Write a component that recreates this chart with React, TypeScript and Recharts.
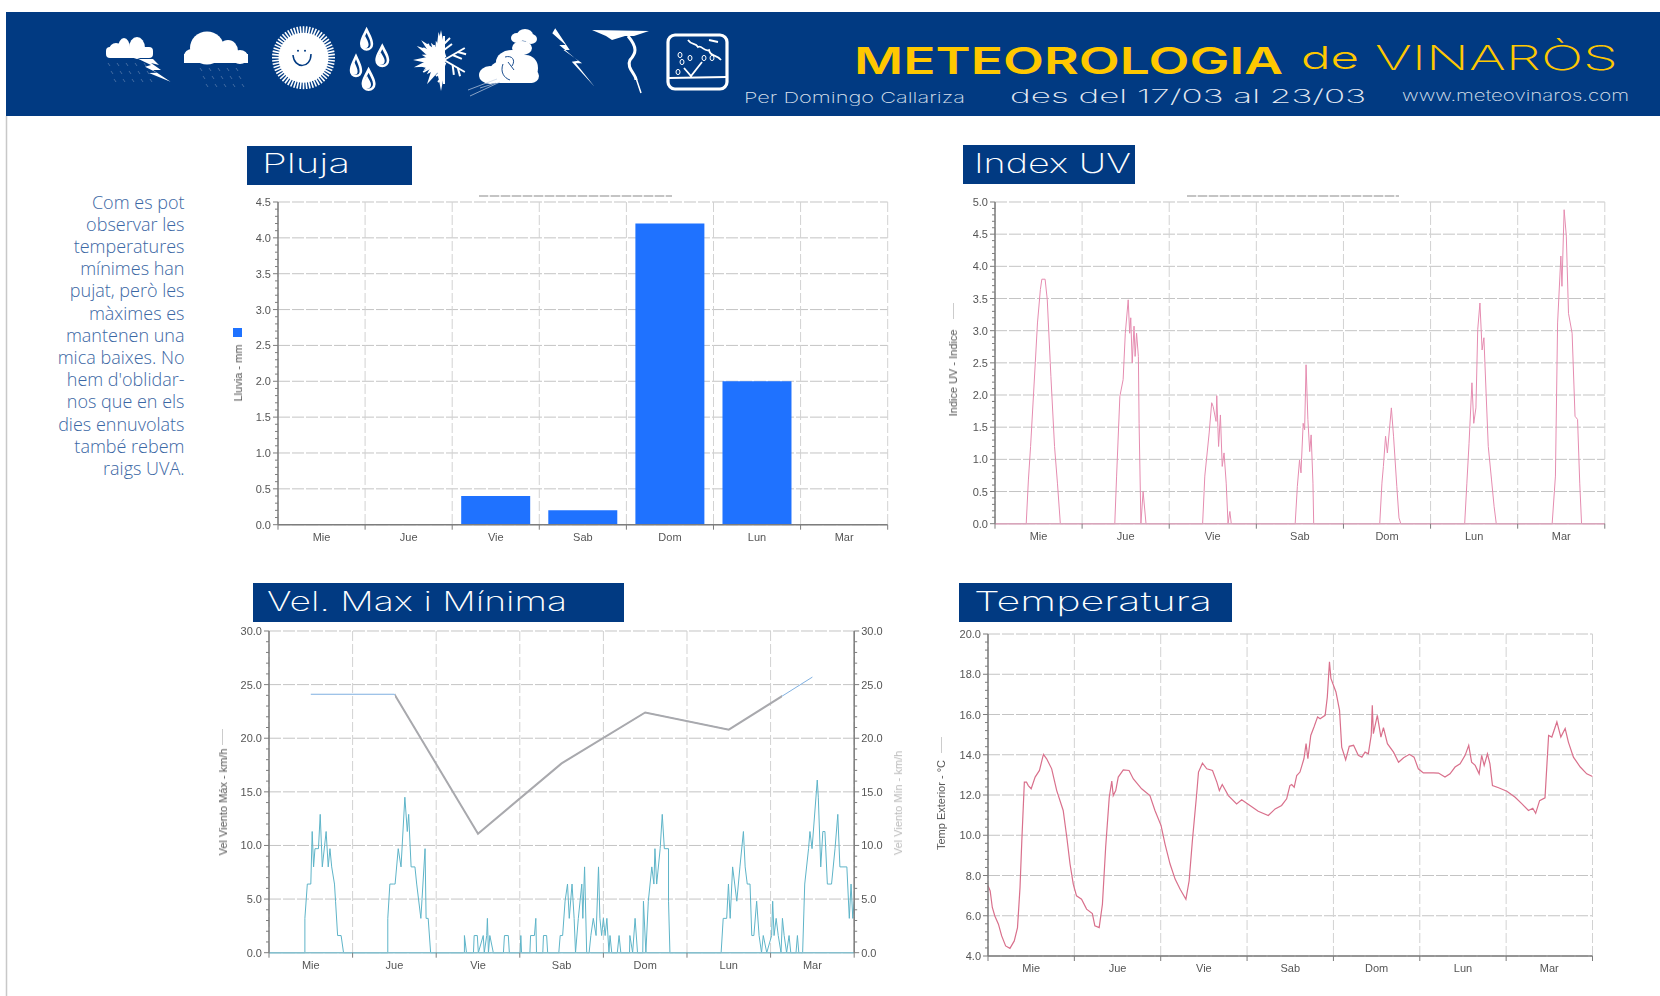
import React from 'react';
import { ComposedChart, Bar, Line, XAxis, YAxis, CartesianGrid } from 'recharts';

const days = ['Mie', 'Jue', 'Vie', 'Sab', 'Dom', 'Lun', 'Mar'];
const dayBounds = [0, 24, 48, 72, 96, 120, 144, 168];
const dayCenters = [12, 36, 60, 84, 108, 132, 156];

const rainValues = [0, 0, 0.4, 0.2, 4.2, 2.0, 0];
const maxWindValues = [24.1, 24.1, 11.1, 17.65, 22.4, 20.8, 25.7];

const uvHours = [
  0, 8.6, 9.2, 9.8, 11.1, 11.7, 12.5, 12.9, 13.8, 14.4, 15.4, 16.4, 17.2, 18,
  33, 33.5, 34.4, 35.3, 35.9, 36.7, 37.1, 37.4, 37.8, 38.3, 38.6, 39, 39.5, 39.7, 40.2, 40.8, 41.6,
  57.2, 57.8, 59, 59.7, 60.1, 60.9, 61.1, 61.6, 62.1, 62.6, 63.1, 63.7, 64.2, 64.7, 65.1,
  82.7, 83.3, 83.9, 84.3, 84.9, 85.3, 85.7, 86.2, 86.7, 87.1, 87.6, 87.8,
  106, 106.6, 107, 107.6, 108.1, 109.2, 109.8, 110.7, 111.3, 111.8,
  129.4, 130, 130.6, 131.4, 131.9, 132.5, 133, 133.6, 134.2, 134.7, 135.3, 135.9, 136.8, 137.5, 138.1,
  153.5, 154.4, 155, 155.9, 156.2, 156.8, 157.4, 158, 159, 159.8, 160.5, 161.1, 161.6, 168,
];
const uvValues = [
  0, 0, 0.68, 1.2, 2.5, 3.12, 3.64, 3.8, 3.8, 3.48, 2.29, 1.2, 0.63, 0,
  0, 0.74, 1.98, 2.24, 2.96, 3.48, 2.96, 3.2, 2.5, 3.07, 2.6, 2.96, 2.6, 1.56, 0, 0.5, 0,
  0, 0.74, 1.41, 1.88, 1.82, 1.59, 1.99, 1.2, 1.69, 0.89, 1.1, 0.63, 0, 0.19, 0,
  0, 0.58, 0.99, 0.79, 1.56, 1.46, 2.47, 1.62, 1.12, 1.38, 0.63, 0,
  0, 0.63, 0.89, 1.36, 1.1, 1.8, 1.36, 0.58, 0.09, 0,
  0, 0.63, 1.25, 2.19, 1.56, 1.8, 3.02, 3.43, 2.7, 2.89, 2.03, 1.2, 0.68, 0.27, 0,
  0, 0.74, 3.12, 4.16, 3.69, 4.88, 4.47, 3.27, 2.96, 1.67, 1.62, 0.63, 0, 0,
];

const minWindHours = [
  0, 10.3, 10.3, 11, 12, 12.4, 12.8, 13.2, 14.2, 14.7, 15.3, 16.4, 17, 17.5, 18, 18.8, 19.1, 19.7, 20.7, 21.4,
  34.1, 34.1, 34.7, 35.7, 36.2, 37.1, 37.9, 39, 39.7, 40.1, 40.8, 41.9, 42.4, 43.6, 44.8, 45.1, 45.7, 46.4,
  56.1, 56.1, 56.7, 58.7, 58.9, 59.8, 60.1, 61.5, 61.8, 62.5, 62.7, 63, 63.4, 64.4,
  67.3, 67.6, 68.7, 69, 72.1, 72.3, 72.5, 74.9, 75.1, 76.2, 76.6, 76.8, 78.6, 78.8, 79.7, 80, 83.2,
  83.6, 84.3, 85, 85.7, 86.2, 87, 87.6, 88, 88.8, 89.8, 90.1, 90.6, 91.2, 91.9, 92.4, 93.1, 93.9, 94.6, 95, 95.5, 96, 96.5, 97, 97.6, 97.9, 98.4,
  100, 100.5, 101, 103.5, 103.6, 104.4, 105.1, 105.8, 107.3, 107.5, 108.2, 108.9, 109.4, 109.9, 110.5, 110.8, 111.3, 112.3, 112.9, 113.5, 114.7, 114.7, 115.1,
  129.8, 130.4, 131.4, 131.9, 132.4, 133.1, 134.3, 135.2, 136.2, 136.7, 137.3, 138.1, 138.6, 139.2, 140, 140.7, 141.4, 141.9, 142.9, 144.3, 144.6, 145, 145.6, 146.2, 147, 147.4, 147.9, 148.6, 149.3, 149.8, 151.3, 151.7, 152.1, 153.2,
  153.8, 154.9, 155.3, 155.9, 157.4, 157.7, 158.4, 159, 159.6, 160.3, 161.5, 162.5, 163.3, 163.9, 165.9, 166.6, 167.1, 167.6, 168,
];
const minWindValues = [
  0, 0, 3.2, 6.4, 6.4, 11.3, 8, 9.7, 9.7, 12.9, 8, 11.3, 8, 9.7, 8, 6.4, 4.8, 1.6, 1.6, 0,
  0, 3.2, 6.4, 6.4, 6.4, 9.7, 8, 14.5, 11.3, 12.9, 8, 8, 6.4, 3.2, 9.7, 3.2, 3.2, 0,
  0, 1.6, 0, 0, 1.6, 1.6, 0, 1.6, 0, 1.6, 3.2, 0, 1.6, 0,
  0, 1.6, 1.6, 0, 0, 1.6, 0, 0, 1.6, 1.6, 3.2, 0, 0, 1.6, 1.6, 0, 0,
  1.6, 1.6, 4.8, 6.4, 3.2, 6.4, 3.2, 0, 3.2, 6.4, 3.2, 8, 0, 0, 1.6, 3.2, 1.6, 8, 3.2, 1.6, 3.2, 1.6, 3.2, 0, 1.6, 0,
  0, 1.6, 0, 0, 1.6, 0, 3.2, 0, 0, 4.8, 0, 4.8, 6.4, 8, 6.4, 9.7, 6.4, 9.7, 12.9, 9.7, 9.7, 4.8, 0,
  0, 3.2, 3.2, 6.4, 3.2, 8, 4.8, 8, 11.3, 8, 6.4, 6.4, 1.6, 1.6, 4.8, 1.6, 0, 1.6, 0, 1.6, 4.8, 1.6, 3.2, 1.6, 0, 3.2, 1.6, 0, 1.6, 0, 0, 1.6, 0, 0,
  6.4, 9.7, 11.3, 9.7, 16.1, 14.5, 8, 11.3, 11.3, 6.4, 6.4, 9.7, 12.9, 8, 8, 3.2, 6.4, 3.2, 4.8,
];

const tempHours = [
  0, 0.6, 1.2, 1.9, 2.9, 3.8, 4.9, 6.1, 7.3, 8.2, 8.9, 9.4, 10.1, 10.7, 11.2, 12, 13.1, 14.3, 15.4, 16.3, 17.7, 19.1, 20.9, 21.9, 22.8, 23.7,
  24.6, 26, 27.4, 29, 29.7, 30.9, 31.8, 32.7, 33.7, 34.4, 34.8, 35.5, 36.2, 37.6, 39.2, 40.4, 42.7, 45, 46.4,
  48.1, 49.2, 50.6, 52, 53.4, 55, 55.9, 56.8, 58, 58.5, 59.6, 60.8, 62.4, 63.6, 64.3, 65.1, 66.8, 69.1, 70.5,
  72.8, 75.1, 77.9, 79.8, 81.6, 83, 83.9, 84.4, 85.1, 85.8, 86.7, 87.8, 88.4, 88.9, 89.7, 90.6, 91.6, 92.3, 93.7, 94.3, 94.9, 95.3,
  96.7, 97.7, 98.3, 99.4, 100.4, 101.6, 102.9, 103.9, 104.8, 105.7, 106.5, 106.8, 107.1, 108.2, 109.2, 109.9, 111, 112.7, 114.1, 115.5, 117.1, 118.4, 119.6,
  121, 123.8, 125.2, 127, 128.4, 129.8, 131.2, 132.6, 133.6, 134.4, 135.4, 136.5, 137.2, 137.9, 138.8, 139.5, 140.2, 141.9,
  144.2, 146.5, 148.4, 150.2, 151.4, 152.2, 153.3, 154.8, 155.8, 156.7, 158.1, 159.2, 160.4, 161.3, 162.7, 164.6, 166.4, 168,
];
const tempValues = [
  7.49, 7.24, 6.41, 5.99, 5.58, 5, 4.5, 4.38, 4.75, 5.41, 7.41, 9.73, 12.64, 12.64, 12.47, 12.31, 12.89, 13.22, 14.02, 13.8, 13.3, 12.22, 11.23, 9.9, 8.57, 7.57,
  6.99, 6.82, 6.33, 6.11, 5.5, 5.41, 6.57, 9.4, 11.89, 12.69, 11.97, 12.22, 12.89, 13.25, 13.22, 12.8, 12.31, 11.97, 11.23,
  10.48, 9.56, 8.57, 7.82, 7.32, 6.82, 7.74, 9.73, 12.06, 13.14, 13.58, 13.3, 13.22, 12.64, 12.22, 12.52, 11.97, 11.56, 11.76,
  11.48, 11.19, 10.98, 11.31, 11.48, 11.81, 12.47, 12.52, 12.39, 12.97, 13.14, 13.8, 14.55, 13.8, 14.96, 15.38, 15.88, 15.79, 15.96, 16.87, 18.62, 17.79,
  17.12, 16.21, 14.38, 13.75, 14.42, 14.47, 13.97, 13.88, 14.13, 14.05, 14.96, 16.46, 15.05, 15.96, 14.88, 15.35, 14.55, 14.13, 13.63, 13.85, 14.02, 13.88, 13.3,
  13.1, 13.1, 13.09, 12.89, 13.05, 13.39, 13.55, 13.97, 14.47, 13.63, 13.47, 13.05, 13.97, 13.47, 14.05, 13.55, 12.47, 12.36,
  12.19, 11.89, 11.56, 11.23, 11.34, 11.09, 11.72, 11.86, 14.96, 14.88, 15.63, 14.88, 15.3, 14.63, 13.88, 13.39, 13.05, 12.92,
];

const rainMajor = [0, 0.5, 1, 1.5, 2, 2.5, 3, 3.5, 4, 4.5];
const uvMajor = [0, 0.5, 1, 1.5, 2, 2.5, 3, 3.5, 4, 4.5, 5];
const windMajor = [0, 5, 10, 15, 20, 25, 30];
const tempMajor = [4, 6, 8, 10, 12, 14, 16, 18, 20];

const noteLines = [
  'Com es pot', 'observar les', 'temperatures', 'mínimes han', 'pujat, però les', 'màximes es',
  'mantenen una', 'mica baixes. No', "hem d'oblidar-", 'nos que en els', 'dies ennuvolats', 'també rebem', 'raigs UVA.',
];

const NAVY = '#013A82';
const GOLD = '#FFC800';
const AXIS = '#7d7d7d';
const AXIS_FONT = '"Liberation Sans", Arial, sans-serif';

const zip = (hours: number[], values: number[]) => hours.map((h, i) => ({ h, v: values[i] }));

// major ticks plus the small ones drawn between them
function withMinor(major: number[], parts: number) {
  const out: number[] = [];
  major.forEach((m, i) => {
    out.push(m);
    if (i < major.length - 1) {
      const step = (major[i + 1] - m) / parts;
      for (let k = 1; k < parts; k++) out.push(+(m + step * k).toFixed(3));
    }
  });
  return out;
}

function YTick({ x, y, payload, major, side }: any) {
  const isMajor = major.includes(payload.value);
  const dir = side === 'right' ? 1 : -1;
  return (
    <g>
      <line x1={x} x2={x + dir * (isMajor ? 5 : 3)} y1={y} y2={y} stroke={AXIS} />
      {isMajor && (
        <text x={x + dir * 7} y={y + 4} textAnchor={side === 'right' ? 'start' : 'end'} fontSize={11} fontFamily={AXIS_FONT} fill="#555">
          {payload.value.toFixed(1)}
        </text>
      )}
    </g>
  );
}

function DayTick({ x, y, payload, band }: any) {
  const label = days[payload.value / 24];
  return (
    <g>
      <line x1={x} x2={x} y1={y} y2={y + 5} stroke={AXIS} />
      {label && (
        <text x={x + band / 2} y={y + 16} textAnchor="middle" fontSize={11} fontFamily={AXIS_FONT} fill="#555">
          {label}
        </text>
      )}
    </g>
  );
}

function DayChart({ x, y, w, h, domain, major, parts, right, data, baseline = AXIS, children }: any) {
  const pad = 60;
  const padRight = right ? 60 : 4;
  const ticks = withMinor(major, parts);
  return (
    <div style={{ position: 'absolute', left: x - pad, top: y - 10, filter: 'blur(0.45px)' }}>
      <ComposedChart
        width={w + pad + padRight}
        height={h + 40}
        data={data}
        margin={{ top: 10, right: right ? 0 : padRight, bottom: 0, left: 0 }}
      >
        <CartesianGrid yAxisId="left" stroke="#c4c4c4" strokeDasharray="12 2" vertical={false} horizontalValues={major} />
        <CartesianGrid yAxisId="left" stroke="#d2d2d2" strokeDasharray="10 3" horizontal={false} verticalValues={dayBounds} />
        <XAxis
          type="number"
          dataKey="h"
          domain={[0, 168]}
          ticks={dayBounds}
          interval={0}
          height={30}
          tickSize={0}
          tickMargin={0}
          tickLine={false}
          axisLine={{ stroke: baseline, strokeWidth: 1.5 }}
          tick={<DayTick band={w / 7} />}
        />
        <YAxis
          yAxisId="left"
          type="number"
          domain={domain}
          ticks={ticks}
          interval={0}
          width={pad}
          tickSize={0}
          tickMargin={0}
          tickLine={false}
          axisLine={{ stroke: AXIS, strokeWidth: 1.5 }}
          tick={<YTick major={major} />}
        />
        {right && (
          <YAxis
            yAxisId="right"
            orientation="right"
            type="number"
            domain={domain}
            ticks={ticks}
            interval={0}
            width={padRight}
            tickSize={0}
            tickMargin={0}
            tickLine={false}
            axisLine={{ stroke: AXIS, strokeWidth: 1.5 }}
            tick={<YTick major={major} side="right" />}
          />
        )}
        {children}
      </ComposedChart>
    </div>
  );
}

function AxisTitle({ x, y, text, color = '#555' }: { x: number; y: number; text: string; color?: string }) {
  return (
    <div
      style={{
        position: 'absolute', left: x, top: y, transform: 'translate(-50%, -50%) rotate(-90deg)',
        whiteSpace: 'nowrap', fontFamily: AXIS_FONT, fontSize: 11, color, filter: 'blur(0.4px)',
      }}
    >
      {text}
    </div>
  );
}

function CutTitle({ x, w }: { x: number; w: number }) {
  return (
    <div
      style={{
        position: 'absolute', left: x, top: 195, width: w, height: 2, filter: 'blur(0.5px)',
        background: 'repeating-linear-gradient(90deg, #c4c4c4 0 9px, #eee 9px 11px)',
      }}
    />
  );
}

function Drop({ cx, top, bottom, hw }: { cx: number; top: number; bottom: number; hw: number }) {
  const d = (t: number, b: number, w: number, c: number) =>
    `M${c},${t} C${c + w * 0.5},${t + (b - t) * 0.3} ${c + w},${t + (b - t) * 0.5} ${c + w},${b - w} A${w},${w} 0 0 1 ${c - w},${b - w} C${c - w},${t + (b - t) * 0.5} ${c - w * 0.5},${t + (b - t) * 0.3} ${c},${t}Z`;
  return (
    <g>
      <path d={d(top, bottom, hw, cx)} fill="#fff" />
      <path d={d(top + 6, bottom - 2.5, hw - 2.6, cx)} fill={NAVY} />
      <path d={d(top + 9, bottom - 2.5, hw - 3, cx - 1.6)} fill="#fff" />
    </g>
  );
}

const rainDashes = (x0: number, y0: number, cols: number, rows: number, dx: number, dy: number) => {
  const out = [];
  for (let r = 0; r < rows; r++) {
    for (let c = 0; c < cols; c++) {
      const px = x0 + c * dx + r * 3;
      const py = y0 + r * dy;
      out.push(<line key={`${r}-${c}`} x1={px} y1={py} x2={px + 2} y2={py + 3} stroke="#5f7fae" strokeWidth={0.7} />);
    }
  }
  return out;
};

function Icons() {
  const sunRays = Array.from({ length: 60 }, (_, i) => (i * Math.PI * 2) / 60);
  const starSpikes = [180, 150, 120, 95, 210, 240, 265, 135, 165, 195, 225, 255];
  const flake = [0, 60, 120, 180, 240, 300];
  return (
    <g fill="#fff">
      {/* cloud with lightning */}
      <rect x={106} y={47} width={47} height={11} rx={4} />
      <ellipse cx={116} cy={50} rx={7} ry={7} />
      <ellipse cx={124} cy={48} rx={6} ry={10} />
      <ellipse cx={137} cy={48} rx={8} ry={11} />
      <polygon points="138.5,59 153,59 159,65 151,63 161,70 153,70 170.5,81.7 149,73 157,72.7 145,66.7 151,65" />
      {rainDashes(108, 63, 5, 3, 9, 8)}
      {/* big cloud */}
      <rect x={184} y={54} width={64} height={9} />
      <ellipse cx={207} cy={48} rx={17} ry={16.5} />
      <ellipse cx={228} cy={51} rx={10} ry={11} />
      <ellipse cx={240} cy={57} rx={8} ry={7} />
      <ellipse cx={192} cy={56} rx={8} ry={7} />
      {rainDashes(200, 68, 5, 3, 9, 8)}
      {/* sun */}
      {sunRays.map((a, i) => (
        <line key={i} x1={303.5 + 22 * Math.cos(a)} y1={57.7 + 22 * Math.sin(a)} x2={303.5 + 31.5 * Math.cos(a)} y2={57.7 + 31.5 * Math.sin(a)} stroke="#fff" strokeWidth={1.6} />
      ))}
      <circle cx={303.5} cy={57.7} r={25} />
      <circle cx={298} cy={50.7} r={1} fill={NAVY} />
      <circle cx={305} cy={50.7} r={1} fill={NAVY} />
      <path d="M293,55 C294,69 311,69 311,54" fill="none" stroke={NAVY} strokeWidth={1.5} />
      {/* drops */}
      <Drop cx={366.6} top={26.7} bottom={50.7} hw={6.6} />
      <Drop cx={356} top={53.3} bottom={77.3} hw={6.2} />
      <Drop cx={382.3} top={43.3} bottom={67.3} hw={7} />
      <Drop cx={368.6} top={66.7} bottom={91} hw={7} />
      {/* sun spikes and snowflake */}
      {starSpikes.map((deg, i) => {
        const a = (deg * Math.PI) / 180;
        const r = i % 2 ? 20 : 28;
        return (
          <polygon
            key={deg}
            points={`${441 + r * Math.cos(a)},${60 + r * Math.sin(a)} ${441 + 6 * Math.cos(a + 1.2)},${60 + 6 * Math.sin(a + 1.2)} ${441 + 6 * Math.cos(a - 1.2)},${60 + 6 * Math.sin(a - 1.2)}`}
          />
        );
      })}
      <polygon points="441,30 445,50 445,70 441,91 437,70 437,50" />
      {flake.map((deg) => (
        <g key={deg} transform={`rotate(${deg} 444 60)`} stroke="#fff" strokeWidth={2} fill="none">
          <line x1={444} y1={60} x2={444} y2={36} />
          <line x1={444} y1={44} x2={450} y2={38} />
          <line x1={444} y1={50} x2={452} y2={44} />
        </g>
      ))}
      {/* storm cloud */}
      <ellipse cx={525} cy={35} rx={8} ry={6} />
      <ellipse cx={517} cy={38} rx={6} ry={5} />
      <ellipse cx={531} cy={39} rx={6} ry={5} />
      <ellipse cx={522} cy={48} rx={10} ry={7} />
      <ellipse cx={512} cy={62} rx={16} ry={12} />
      <ellipse cx={490} cy={75} rx={11} ry={9} />
      <ellipse cx={503} cy={72} rx={14} ry={11} />
      <ellipse cx={526} cy={68} rx={12} ry={13} />
      <ellipse cx={531} cy={76} rx={8} ry={7} />
      <rect x={486} y={72} width={48} height={11} rx={4} />
      <path d="M505,57 C512,55 516,60 512,66 M503,64 C500,72 504,78 510,80 M508,62 L514,70" fill="none" stroke={NAVY} strokeWidth={0.9} />
      <path d="M470,96 L500,82 M468,90 L497,79 M480,88 L496,83" fill="none" stroke="#c2cee2" strokeWidth={0.7} />
      {/* bolt */}
      <polygon points="552.3,33.3 555.2,28.3 569.7,50 563.5,50 582.1,63.3 575.9,63.3 594.6,86.7 571.8,61.7 578,60.7 559.3,45 565.6,45" />
      {/* tornado */}
      <path d="M592,30 L649,31 L634,36 L625,36 L612,40 L606,36 Z" />
      <path d="M628,36 C638,48 636,53 630,60 C626,68 636,74 636,80" fill="none" stroke="#fff" strokeWidth={3} />
      <path d="M636,78 L641,93" fill="none" stroke="#fff" strokeWidth={1.5} />
      {/* hail window */}
      <rect x={668} y={35} width={59} height={54} rx={7} fill="none" stroke="#fff" strokeWidth={3.2} />
      <path d="M688,40 C692,46 695,42 698,47 C702,45 704,52 709,50 C710,57 716,54 721,60 M709,40 L718,42" fill="none" stroke="#fff" strokeWidth={1.8} />
      <path d="M669,78 L726,77 M684,68 L691,76 L702,62" fill="none" stroke="#fff" strokeWidth={1.8} />
      {[[682, 62], [690, 58], [678, 72], [704, 58], [712, 58], [680, 55]].map(([cx, cy]) => (
        <ellipse key={`${cx}-${cy}`} cx={cx} cy={cy} rx={2} ry={2.6} fill="none" stroke="#fff" strokeWidth={1} />
      ))}
    </g>
  );
}

function Backdrop() {
  const thin = '"Inter", "Noto Sans", sans-serif';
  const boxes = [
    { x: 247, y: 146, w: 165, h: 39, label: 'Pluja', tx: 262, len: 88, by: 173 },
    { x: 963, y: 145, w: 172, h: 39, label: 'Index UV', tx: 974, len: 157, by: 173 },
    { x: 253, y: 583, w: 371, h: 39, label: 'Vel. Max i Mínima', tx: 267, len: 300, by: 611 },
    { x: 959, y: 583, w: 273, h: 39, label: 'Temperatura', tx: 974, len: 238, by: 611 },
  ];
  return (
    <svg width={1660} height={996} style={{ position: 'absolute', left: 0, top: 0 }}>
      <rect x={6} y={12} width={1654} height={104} fill={NAVY} />
      <line x1={6.5} y1={116} x2={6.5} y2={996} stroke="#c8c8c8" strokeWidth={1.5} />
      <Icons />
      <g fontFamily={thin}>
        <text x={854} y={74} fontSize={37} fontWeight={600} fill={GOLD} textLength={429} lengthAdjust="spacingAndGlyphs">METEOROLOGIA</text>
        <text x={1301} y={69} fontSize={31} fontWeight={300} fill={GOLD} textLength={58} lengthAdjust="spacingAndGlyphs">de</text>
        <text x={1375} y={70} fontSize={34} fontWeight={200} fill={GOLD} textLength={243} lengthAdjust="spacingAndGlyphs">VINARÒS</text>
        <text x={744} y={103} fontSize={15} fontWeight={200} fill="#d9e0ec" textLength={221} lengthAdjust="spacingAndGlyphs">Per Domingo Callariza</text>
        <text x={1010} y={103} fontSize={19} fontWeight={200} fill="#e6ebf3" textLength={356} lengthAdjust="spacingAndGlyphs">des del 17/03 al 23/03</text>
        <text x={1402} y={101} fontSize={15} fontWeight={200} fill="#d9e0ec" textLength={227} lengthAdjust="spacingAndGlyphs">www.meteovinaros.com</text>
      </g>
      {boxes.map((b) => (
        <g key={b.label}>
          <rect x={b.x} y={b.y} width={b.w} height={b.h} fill={NAVY} />
          <text x={b.tx} y={b.by} fontFamily={thin} fontSize={27} fontWeight={200} fill="#fff" textLength={b.len} lengthAdjust="spacingAndGlyphs">{b.label}</text>
        </g>
      ))}
      <g fontFamily='"Open Sans", sans-serif' fontSize={18} fontWeight={300} fill="#3b67a4" textAnchor="end">
        {noteLines.map((line, i) => (
          <text key={line} x={184.5} y={208.5 + i * 22.2}>{line}</text>
        ))}
      </g>
    </svg>
  );
}

export default function App() {
  const maxWind = zip(dayCenters, maxWindValues);
  return (
    <div style={{ position: 'absolute', left: 0, top: 0, width: 1660, height: 996, background: '#fff', overflow: 'hidden' }}>
      <Backdrop />

      <CutTitle x={479} w={193} />
      <CutTitle x={1187} w={212} />

      <DayChart x={278.3} y={202.3} w={609.7} h={322.7} domain={[0, 4.5]} major={rainMajor} parts={5} data={zip(dayCenters, rainValues)}>
        <Bar yAxisId="left" dataKey="v" fill="#1F72FF" barSize={69} isAnimationActive={false} />
      </DayChart>
      <AxisTitle x={238} y={373} text="Lluvia - mm" />
      <div style={{ position: 'absolute', left: 233, top: 328, width: 9, height: 9, background: '#1F72FF', filter: 'blur(0.4px)' }} />

      <DayChart x={994.7} y={202.3} w={609.8} h={321.7} domain={[0, 5]} major={uvMajor} parts={5} baseline="#d8a6bb">
        <Line yAxisId="left" data={zip(uvHours, uvValues)} dataKey="v" stroke="#E58CB0" strokeWidth={1} dot={false} isAnimationActive={false} />
      </DayChart>
      <AxisTitle x={953} y={373} text="Indice UV - Indice" />
      <div style={{ position: 'absolute', left: 952.5, top: 303, width: 1, height: 16, background: '#ccc' }} />

      <DayChart x={269} y={631} w={585.2} h={321.7} domain={[0, 30]} major={windMajor} parts={5} right baseline="#86bfcd">
        <defs>
          <linearGradient id="maxWindStroke" x1="0" y1="0" x2="1" y2="0">
            <stop offset="0.167" stopColor="#a9a9ad" stopOpacity={0} />
            <stop offset="0.167" stopColor="#a9a9ad" />
            <stop offset="0.94" stopColor="#a9a9ad" />
            <stop offset="0.94" stopColor="#a9a9ad" stopOpacity={0} />
          </linearGradient>
        </defs>
        <Line yAxisId="right" data={zip(minWindHours, minWindValues)} dataKey="v" stroke="#5DB4C8" strokeWidth={1} dot={false} isAnimationActive={false} />
        <Line yAxisId="left" data={maxWind} dataKey="v" stroke="#7FB0E0" strokeWidth={1} dot={false} isAnimationActive={false} />
        <Line yAxisId="left" data={maxWind} dataKey="v" stroke="url(#maxWindStroke)" strokeWidth={2} dot={false} isAnimationActive={false} />
      </DayChart>
      <AxisTitle x={222.5} y={802} text="Vel Viento Máx - km/h" />
      <div style={{ position: 'absolute', left: 222, top: 729, width: 1, height: 16, background: '#ccc' }} />
      <AxisTitle x={897.5} y={803} text="Vel Viento Mín - km/h" color="#bbb" />

      <DayChart x={988} y={633.7} w={604.5} h={322} domain={[4, 20]} major={tempMajor} parts={5}>
        <Line yAxisId="left" data={zip(tempHours, tempValues)} dataKey="v" stroke="#D9708C" strokeWidth={1.2} dot={false} isAnimationActive={false} />
      </DayChart>
      <AxisTitle x={941} y={805} text="Temp Exterior - °C" />
      <div style={{ position: 'absolute', left: 940.5, top: 737, width: 1, height: 16, background: '#ccc' }} />
    </div>
  );
}
